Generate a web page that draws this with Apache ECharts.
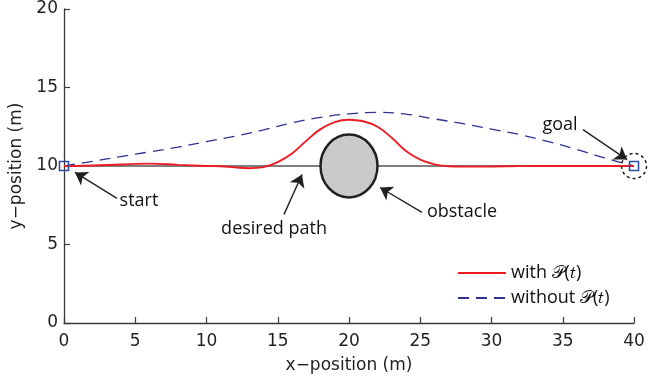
<!DOCTYPE html>
<html>
<head>
<meta charset="utf-8">
<script src="https://cdn.jsdelivr.net/npm/echarts@6/dist/echarts.min.js"></script>
<style>
  html, body { margin: 0; padding: 0; background: #fff; }
  #chart { width: 648px; height: 379px; }
</style>
</head>
<body>
<div id="chart"></div>
<script>
// Reference trajectory (straight line at y = 10 m)
const desiredPath = [[0, 10], [40, 10]];

// Trajectory with the potential-field term P(t)
const withP = [
  [0, 10], [2, 10.03], [4, 10.1], [6, 10.15], [8, 10.07], [10, 10.0], [11, 9.98],
  [12, 9.91], [13, 9.86], [14, 9.93], [15, 10.25], [16, 10.8], [17, 11.6],
  [18, 12.35], [19, 12.8], [20, 12.95], [21, 12.85], [22, 12.5], [23, 11.8],
  [24, 10.95], [25, 10.4], [26, 10.1], [27, 9.98], [28, 9.96], [30, 9.97],
  [32, 9.99], [35, 10.0], [40, 10.0]
];

// Trajectory without P(t)
const withoutP = [
  [0, 10], [2, 10.3], [4, 10.6], [6, 10.9], [8, 11.2], [10, 11.55], [12, 11.9],
  [14, 12.3], [16, 12.75], [18, 13.1], [20, 13.32], [22, 13.42], [24, 13.3],
  [26, 13.0], [28, 12.7], [30, 12.35], [32, 12.0], [34, 11.55], [36, 11.05],
  [38, 10.5], [40, 10]
];

// Obstacle: centre and radius (m)
const obstacle = [[20, 10, 2]];

const startPoint = [[0, 10]];
const goalPoint = [[40, 10]];

// Annotation labels: [x, y, text]
const notes = [
  [5.26, 7.75, 'start'],
  [14.74, 5.97, 'desired path'],
  [27.93, 7.05, 'obstacle'],
  [34.81, 12.63, 'goal']
];

// Annotation arrows: [tailX, tailY, tipX, tipY]
const arrows = [
  [3.72, 7.94, 0.77, 9.59],
  [15.44, 6.92, 16.70, 9.46],
  [25.12, 7.05, 22.18, 8.63],
  [36.42, 12.32, 39.51, 10.41]
];

const xTicks = { min: 0, max: 40, interval: 5 };
const yTicks = { min: 0, max: 20, interval: 5 };

const labelWith = 'with \uD835\uDCAB(\uD835\uDC61)';
const labelWithout = 'without \uD835\uDCAB(\uD835\uDC61)';

const tickFont = 'DejaVu Sans';
const noteFont = 'Open Sans';
const ink = '#231f20';
const noteInk = '#111';
const red = '#ec1c24';
const navy = '#2e3192';

const chart = echarts.init(document.getElementById('chart'), null, { renderer: 'canvas' });

const axisCommon = {
  axisLine: { show: true, onZero: false, lineStyle: { color: '#3a3a3a', width: 1.3 } },
  axisTick: { show: true, inside: true, length: 6, lineStyle: { color: '#3a3a3a', width: 1.2 } },
  splitLine: { show: false },
  axisLabel: { color: ink, fontFamily: tickFont, fontSize: 17 },
  nameTextStyle: { color: ink, fontFamily: tickFont, fontSize: 17 }
};

chart.setOption({
  animation: false,
  backgroundColor: '#fff',
  grid: { left: 64, right: 14, top: 9, bottom: 55, containLabel: false },
  xAxis: Object.assign({}, axisCommon, {
    type: 'value', min: xTicks.min, max: xTicks.max, interval: xTicks.interval,
    name: 'x\u2212position (m)', nameLocation: 'middle', nameGap: 34,
    axisLabel: Object.assign({}, axisCommon.axisLabel, { margin: 10 })
  }),
  yAxis: Object.assign({}, axisCommon, {
    type: 'value', min: yTicks.min, max: yTicks.max, interval: yTicks.interval,
    name: 'y\u2212position (m)', nameLocation: 'middle', nameGap: 33,
    axisLabel: Object.assign({}, axisCommon.axisLabel, { margin: 6 })
  }),
  legend: {
    orient: 'vertical',
    left: 452, top: 259,
    itemWidth: 48, itemHeight: 14, itemGap: 7,
    itemStyle: { opacity: 0 },
    textStyle: { color: noteInk, fontFamily: noteFont, fontSize: 18 },
    data: [labelWith, labelWithout]
  },
  series: [
    {
      name: 'desired', type: 'line', data: desiredPath, symbol: 'none',
      lineStyle: { color: '#000', width: 1.2 }, z: 2, silent: true
    },
    {
      name: 'obstacle', type: 'custom', data: obstacle, z: 3,
      renderItem: function (params, api) {
        const c = api.coord([api.value(0), api.value(1)]);
        const s = api.size([api.value(2), api.value(2)]);
        return {
          type: 'ellipse',
          shape: { cx: c[0], cy: c[1], rx: s[0], ry: s[1] },
          style: { fill: '#c9cacc', stroke: ink, lineWidth: 2.5 }
        };
      }
    },
    {
      name: labelWithout, type: 'line', data: withoutP, symbol: 'none', smooth: 0.4,
      color: navy, itemStyle: { color: navy },
      lineStyle: { color: navy, width: 1.3, type: [11, 7] }, z: 4
    },
    {
      name: labelWith, type: 'line', data: withP, symbol: 'none', smooth: 0.4,
      color: red, itemStyle: { color: red },
      lineStyle: { color: red, width: 1.9 }, z: 5
    },
    {
      name: 'start', type: 'scatter', data: startPoint, symbol: 'rect', symbolSize: 9, z: 6,
      itemStyle: { opacity: 1, color: 'rgba(255,255,255,0)', borderColor: '#2b4ea2', borderWidth: 1.6 }
    },
    {
      name: 'goal', type: 'scatter', data: goalPoint, symbol: 'rect', symbolSize: 9, z: 6,
      itemStyle: { opacity: 1, color: 'rgba(255,255,255,0)', borderColor: '#2b4ea2', borderWidth: 1.6 }
    },
    {
      name: 'goalRing', type: 'scatter', data: goalPoint, symbol: 'circle', symbolSize: 25, z: 6,
      itemStyle: { opacity: 1, color: 'rgba(255,255,255,0)', borderColor: ink, borderWidth: 1.5, borderType: [3, 3] }
    },
    {
      name: 'arrows', type: 'line', data: [], z: 7,
      markLine: {
        silent: true, animation: false,
        symbol: ['none', 'arrow'], symbolSize: 12,
        label: { show: false },
        itemStyle: { color: ink },
        lineStyle: { color: ink, width: 1.4, type: 'solid' },
        data: arrows.map(a => [{ coord: [a[0], a[1]] }, { coord: [a[2], a[3]] }])
      }
    },
    {
      name: 'notes', type: 'scatter', data: notes, symbolSize: 0, z: 8,
      itemStyle: { color: noteInk, opacity: 1 },
      label: {
        show: true, position: 'inside', color: noteInk, opacity: 1,
        textBorderWidth: 0, textBorderColor: 'transparent',
        fontFamily: noteFont, fontSize: 18,
        formatter: p => p.value[2]
      }
    }
  ]
});
</script>
</body>
</html>
